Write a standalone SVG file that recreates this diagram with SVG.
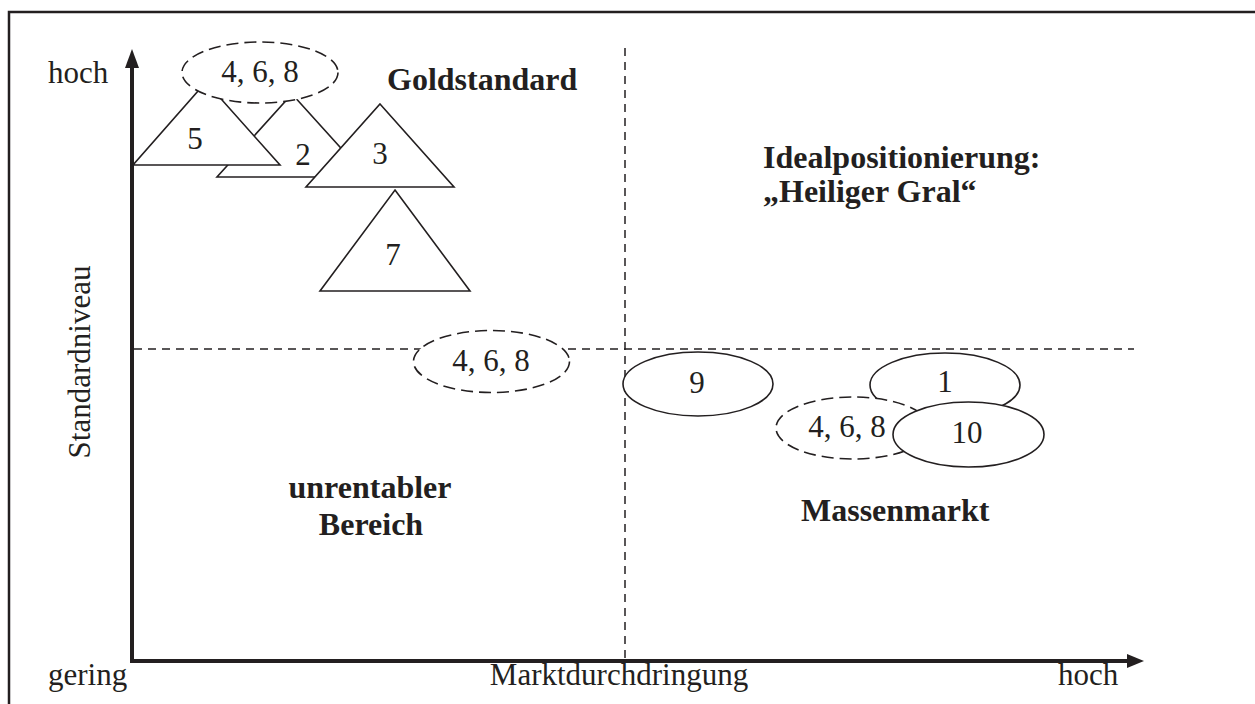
<svg xmlns="http://www.w3.org/2000/svg" width="1255" height="704" viewBox="0 0 1255 704">
<style>
text{font-family:"Liberation Serif","Times New Roman",serif;fill:#231f20;font-size:31px}
.b{font-weight:bold;font-size:32px}
.m{text-anchor:middle}
.tri{fill:#fff;stroke:#231f20;stroke-width:1.6;stroke-linejoin:miter}
.ell{fill:#fff;stroke:#231f20;stroke-width:1.6}
.dell{fill:#fff;stroke:#231f20;stroke-width:1.6;stroke-dasharray:12 6}
.grid{stroke:#231f20;stroke-width:1.5;stroke-dasharray:8 6;fill:none}
.axis{stroke:#231f20;stroke-width:4;fill:none}
</style>
<rect width="1255" height="704" fill="#fff"/>
<path d="M9,704 V12 H1255" fill="none" stroke="#231f20" stroke-width="2.5"/>
<g id="connectors">
<line class="grid" x1="625" y1="48" x2="625" y2="659"/>
<line class="grid" x1="134" y1="349" x2="1134" y2="349"/>
<path class="axis" d="M132,661 V66"/>
<path d="M132,49 L139,68 L125,68 Z" fill="#231f20"/>
<path class="axis" d="M130,661 H1128"/>
<path d="M1144,661 L1127,654 L1127,668 Z" fill="#231f20"/>
</g>
<g id="node-2"><path class="tri" d="M292,94 L367,177 L217,177 Z"/><text class="m" x="303" y="165">2</text></g>
<g id="node-5"><path class="tri" d="M206,82 L280,165 L133,165 Z"/><text class="m" x="195" y="149">5</text></g>
<g id="node-3"><path class="tri" d="M380,104 L454,187 L306,187 Z"/><text class="m" x="380" y="164">3</text></g>
<g id="node-7"><path class="tri" d="M395,190 L470,291 L320,291 Z"/><text class="m" x="393" y="265">7</text></g>
<g id="node-468-top"><ellipse class="dell" cx="260" cy="72.5" rx="78" ry="30.5"/><text class="m" x="260" y="82">4, 6, 8</text></g>
<g id="node-468-mid"><ellipse class="dell" cx="491.5" cy="361.5" rx="78" ry="31"/><text class="m" x="491" y="371">4, 6, 8</text></g>
<g id="node-9"><ellipse class="ell" cx="698" cy="384" rx="75" ry="32"/><text class="m" x="697" y="393">9</text></g>
<g id="node-1"><ellipse class="ell" cx="945" cy="385" rx="75" ry="32"/><text class="m" x="945" y="392">1</text></g>
<g id="node-468-right"><ellipse class="dell" cx="853" cy="428" rx="77" ry="31"/><text class="m" x="847" y="437">4, 6, 8</text></g>
<g id="node-10"><ellipse class="ell" cx="968.5" cy="434.5" rx="75.5" ry="32.5"/><text class="m" x="967" y="443">10</text></g>
<g id="labels">
<text x="48" y="83">hoch</text>
<text class="b" x="387" y="90">Goldstandard</text>
<text class="b" x="763" y="168">Idealpositionierung:</text>
<text class="b" x="763" y="202">„Heiliger Gral“</text>
<text class="b m" x="370" y="498">unrentabler</text>
<text class="b m" x="371" y="535">Bereich</text>
<text class="b" x="801" y="521">Massenmarkt</text>
<text class="m" transform="translate(90,362) rotate(-90)">Standardniveau</text>
<text x="48" y="685">gering</text>
<text class="m" x="619" y="685">Marktdurchdringung</text>
<text x="1058" y="685">hoch</text>
</g>
</svg>
